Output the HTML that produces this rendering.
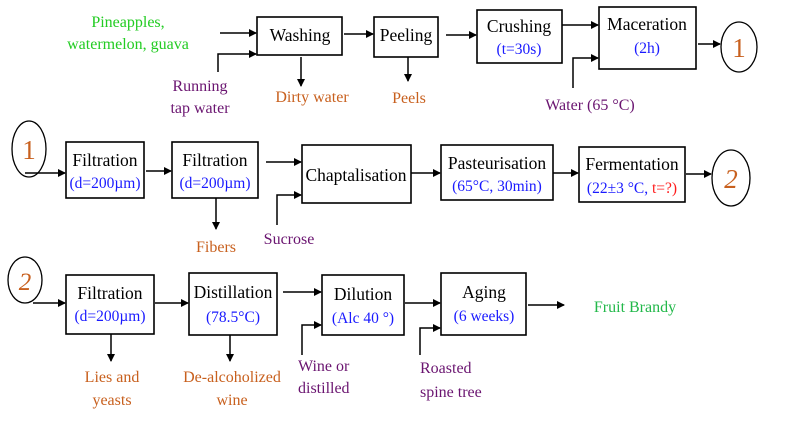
<!DOCTYPE html>
<html><head><meta charset="utf-8"><style>
html,body{margin:0;padding:0;background:#fff;width:787px;height:432px;overflow:hidden}
svg{display:block}
svg text{font-family:"Liberation Serif","Times New Roman",serif !important}
.t{font-size:17.5px;fill:#000;text-anchor:middle}
.s{font-size:15.5px;fill:#1a1aff;text-anchor:middle}
.o{font-size:16px;fill:#c8601e}
.p{font-size:16px;fill:#6a1470}
.g{font-size:16px;fill:#22cc22}
rect{fill:#fff;stroke:#000;stroke-width:1.6}
line,polyline{stroke:#000;stroke-width:1.5;fill:none}
ellipse{fill:#fff;stroke:#000;stroke-width:1.3}
</style></head><body>
<svg width="787" height="432" viewBox="0 0 787 432" font-family="Liberation Serif, serif">
<defs><marker id="a" markerWidth="8" markerHeight="8" refX="7" refY="4" orient="auto" markerUnits="userSpaceOnUse"><path d="M0,0 L8,4 L0,8 z" fill="#000"/></marker></defs>

<!-- Row 1 -->
<text class="g" x="128" y="27" text-anchor="middle">Pineapples,</text>
<text class="g" x="128" y="49" text-anchor="middle">watermelon, guava</text>
<line x1="220" y1="33" x2="256" y2="33" marker-end="url(#a)"/>
<polyline points="218,72 218,54 256,54" marker-end="url(#a)"/>
<text class="p" x="200" y="91" text-anchor="middle">Running</text>
<text class="p" x="200" y="113" text-anchor="middle">tap water</text>
<rect x="257" y="17" width="85" height="38"/>
<text class="t" x="300" y="41">Washing</text>
<line x1="301" y1="57" x2="301" y2="86" marker-end="url(#a)"/>
<text class="o" x="312" y="102" text-anchor="middle">Dirty water</text>
<line x1="344" y1="34" x2="373" y2="34" marker-end="url(#a)"/>
<rect x="374" y="17" width="64" height="40"/>
<text class="t" x="406" y="41">Peeling</text>
<line x1="408" y1="57" x2="408" y2="81" marker-end="url(#a)"/>
<text class="o" x="409" y="103" text-anchor="middle">Peels</text>
<line x1="446" y1="35" x2="476" y2="35" marker-end="url(#a)"/>
<rect x="477" y="10" width="85" height="53"/>
<text class="t" x="519" y="32">Crushing</text>
<text class="s" x="519" y="54">(t=30s)</text>
<line x1="562" y1="25" x2="598" y2="25" marker-end="url(#a)"/>
<polyline points="573,88 573,58 598,58" marker-end="url(#a)"/>
<text class="p" x="590" y="110" text-anchor="middle">Water (65 °C)</text>
<rect x="599" y="7" width="97" height="62"/>
<text class="t" x="647" y="30">Maceration</text>
<text class="s" x="647" y="53">(2h)</text>
<line x1="698" y1="44" x2="720" y2="44" marker-end="url(#a)"/>
<ellipse cx="739" cy="47" rx="18" ry="25"/>
<text x="739" y="57" text-anchor="middle" style="font-size:27px;fill:#c8601e">1</text>

<!-- Row 2 -->
<ellipse cx="29" cy="149" rx="17" ry="28"/>
<text x="29" y="159" text-anchor="middle" style="font-size:27px;fill:#c8601e">1</text>
<line x1="25" y1="173" x2="65" y2="173" marker-end="url(#a)"/>
<rect x="66" y="142" width="78" height="56"/>
<text class="t" x="105" y="166">Filtration</text>
<text class="s" x="105" y="188">(d=200µm)</text>
<line x1="146" y1="171" x2="171" y2="171" marker-end="url(#a)"/>
<rect x="172" y="142" width="86" height="56"/>
<text class="t" x="215" y="166">Filtration</text>
<text class="s" x="215" y="188">(d=200µm)</text>
<line x1="216" y1="198" x2="216" y2="229" marker-end="url(#a)"/>
<text class="o" x="216" y="252" text-anchor="middle">Fibers</text>
<line x1="266" y1="162" x2="301" y2="162" marker-end="url(#a)"/>
<polyline points="277,225 277,195 301,195" marker-end="url(#a)"/>
<text class="p" x="289" y="244" text-anchor="middle">Sucrose</text>
<rect x="302" y="145" width="109" height="58"/>
<text class="t" x="356" y="181">Chaptalisation</text>
<line x1="411" y1="173" x2="440" y2="173" marker-end="url(#a)"/>
<rect x="441" y="145" width="112" height="55"/>
<text class="t" x="497" y="169">Pasteurisation</text>
<text class="s" x="497" y="191">(65°C, 30min)</text>
<line x1="553" y1="173" x2="578" y2="173" marker-end="url(#a)"/>
<rect x="579" y="147" width="106" height="55"/>
<text class="t" x="632" y="170">Fermentation</text>
<text class="s" x="632" y="193">(22±3 °C, <tspan fill="#ff1a1a">t=?)</tspan></text>
<line x1="686" y1="174" x2="711" y2="174" marker-end="url(#a)"/>
<ellipse cx="731" cy="178" rx="19" ry="28"/>
<text x="731" y="188" text-anchor="middle" style="font-size:27px;font-style:italic;fill:#c8601e">2</text>

<!-- Row 3 -->
<ellipse cx="25" cy="280" rx="17" ry="23"/>
<text x="25" y="290" text-anchor="middle" style="font-size:25px;font-style:italic;fill:#c8601e">2</text>
<line x1="33" y1="303" x2="65" y2="303" marker-end="url(#a)"/>
<rect x="66" y="275" width="88" height="59"/>
<text class="t" x="110" y="299">Filtration</text>
<text class="s" x="110" y="321">(d=200µm)</text>
<line x1="111" y1="334" x2="111" y2="361" marker-end="url(#a)"/>
<text class="o" x="112" y="382" text-anchor="middle">Lies and</text>
<text class="o" x="112" y="405" text-anchor="middle">yeasts</text>
<line x1="155" y1="303" x2="188" y2="303" marker-end="url(#a)"/>
<rect x="189" y="273" width="88" height="62"/>
<text class="t" x="233" y="298">Distillation</text>
<text class="s" x="233" y="322">(78.5°C)</text>
<line x1="230" y1="335" x2="230" y2="361" marker-end="url(#a)"/>
<text class="o" x="232" y="382" text-anchor="middle">De-alcoholized</text>
<text class="o" x="232" y="405" text-anchor="middle">wine</text>
<line x1="283" y1="292" x2="321" y2="292" marker-end="url(#a)"/>
<polyline points="302,355 302,325 321,325" marker-end="url(#a)"/>
<text class="p" x="298" y="371">Wine or</text>
<text class="p" x="298" y="393">distilled</text>
<rect x="322" y="275" width="82" height="60"/>
<text class="t" x="363" y="300">Dilution</text>
<text class="s" x="363" y="323">(Alc 40 °)</text>
<line x1="405" y1="303" x2="440" y2="303" marker-end="url(#a)"/>
<polyline points="420,355 420,328 440,328" marker-end="url(#a)"/>
<text class="p" x="420" y="373">Roasted</text>
<text class="p" x="420" y="397">spine tree</text>
<rect x="441" y="273" width="85" height="62"/>
<text class="t" x="484" y="298">Aging</text>
<text class="s" x="484" y="321">(6 weeks)</text>
<line x1="528" y1="305" x2="564" y2="305" marker-end="url(#a)"/>
<text x="635" y="312" text-anchor="middle" style="font-size:16px;fill:#22b84a">Fruit Brandy</text>
</svg>
</body></html>
